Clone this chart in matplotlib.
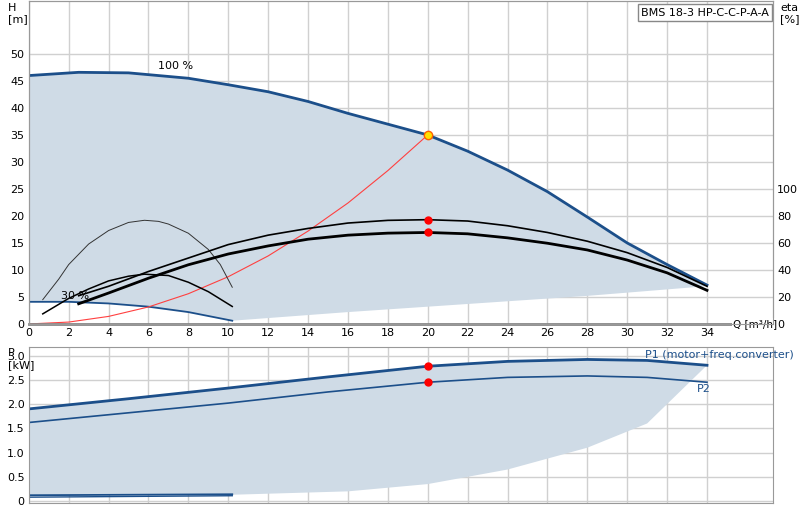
import matplotlib
matplotlib.use("Agg")
import matplotlib.pyplot as plt
import numpy as np

q100 = [0, 2.5, 5, 8, 10, 12, 14, 16, 18, 20, 22, 24, 26, 28, 30, 32, 34]
h100 = [46, 46.6, 46.5, 45.5, 44.3, 43, 41.2, 39, 37, 35, 32, 28.5, 24.5, 19.8, 15, 11, 7.2]
q30 = [0, 2, 4, 6, 8, 10.2]
h30 = [4.1, 4.1, 3.8, 3.2, 2.2, 0.6]
qlow = [10.2, 16, 22, 28, 34]
hlow = [0.6, 2.2, 3.7, 5.2, 7.0]
qeta = [2.5, 4, 6, 8, 10, 12, 14, 16, 18, 20, 22, 24, 26, 28, 30, 32, 34]
eta_tot = [21, 28, 39, 49, 59, 66, 71, 75, 77, 77.5, 76.5, 73, 68, 61.5, 53, 42, 28]
eta_pump = [15, 23, 34, 44, 52, 58, 63, 66, 67.5, 68, 67, 64, 60, 55, 47.5, 38, 25]
q30e = [0.7, 2, 3, 4, 5, 5.8, 7, 8, 9, 10.2]
eta30 = [7.5, 19, 26, 32, 35.5, 37, 36, 31, 24, 13]
q30n = [0.7, 1.5, 2, 3, 4, 5, 5.8, 6.5, 7, 8, 9, 9.6, 10.2]
h30n = [4.5, 8.3, 11, 14.8, 17.3, 18.8, 19.2, 19.0, 18.5, 16.8, 13.8, 11, 6.8]
qsys = [0, 2, 4, 6, 8, 10, 12, 14, 16, 18, 20]
hsys = [0, 0.35, 1.4, 3.15, 5.6, 8.75, 12.6, 17.2, 22.4, 28.4, 35]
qp = [0, 5, 10, 15, 20, 24, 28, 31, 34]
p1 = [1.9, 2.11, 2.33, 2.56, 2.78, 2.88, 2.92, 2.9, 2.8]
p2 = [1.62, 1.82, 2.02, 2.25, 2.45, 2.55, 2.58, 2.55, 2.45]
qpl = [10.2, 16, 20, 24, 28, 31, 34]
ppl = [0.13, 0.2, 0.35, 0.65, 1.1, 1.6, 2.8]
qp30 = [0, 10.2]
p1_30 = [0.12, 0.14]
p2_30 = [0.08, 0.11]

blue = "#1c4f8a"
fillc = "#cfdbe6"
grid = "#d0d0d0"

fig = plt.figure(figsize=(8, 5.2), dpi=100)
ax = fig.add_axes([0.036, 0.377, 0.93, 0.621])
ax.fill(list(q100) + qlow[::-1] + q30[::-1][1:], list(h100) + hlow[::-1] + h30[::-1][1:], color=fillc, lw=0)
ax.plot(q100, h100, color=blue, lw=2)
ax.plot(q30, h30, color=blue, lw=1.3)
ax.plot(qsys, hsys, color="#ff4040", lw=0.8)
ax.plot(q30n, h30n, color="#333333", lw=0.7)
ax2 = ax.twinx()
ax2.plot(qeta, eta_tot, color="black", lw=1.2)
ax2.plot(qeta, eta_pump, color="black", lw=2)
ax2.plot(q30e, eta30, color="black", lw=1.1)
ax2.plot([20], [77.5], "o", color="red", ms=5)
ax2.plot([20], [68], "o", color="red", ms=5)
ax.plot([20], [35], "o", color="#ffe000", mec="#ff6000", ms=6)
ax.set_xlim(0, 37.3); ax.set_ylim(0, 59.8)
ax2.set_ylim(0, 240)
ax.set_xticks(range(0, 35, 2)); ax.set_yticks(range(0, 51, 5))
ax2.set_yticks(range(0, 101, 20))
ax.grid(True, color=grid, lw=1); ax.set_axisbelow(True)
for a in (ax, ax2):
    a.tick_params(labelsize=8, length=0, pad=3)
    for s in a.spines.values(): s.set_color("#999999")
ax.spines["bottom"].set_color("#888888"); ax.spines["bottom"].set_linewidth(2)
ax.text(6.5, 47.3, "100 %", fontsize=8)
ax.text(1.6, 4.6, "30 %", fontsize=8)
fig.text(0.010, 0.995, "H\n[m]", fontsize=8, va="top", ha="left")
fig.text(0.975, 0.995, "eta\n[%]", fontsize=8, va="top", ha="left")
ax.text(35.3, 0, "Q [m³/h]", fontsize=7.5, va="center", ha="left", bbox=dict(fc="white", ec="none", pad=0.5))
ax.text(37.1, 58.6, "BMS 18-3 HP-C-C-P-A-A", fontsize=8, ha="right", va="top",
        bbox=dict(fc="white", ec="#888888", boxstyle="square,pad=0.3"))

bx = fig.add_axes([0.036, 0.0327, 0.93, 0.3003])
bx.fill(list(qp) + qpl[::-1] + qp30[::-1], list(p1) + ppl[::-1] + p1_30[::-1], color=fillc, lw=0)
bx.plot(qp, p1, color=blue, lw=2)
bx.plot(qp, p2, color=blue, lw=1.2)
bx.plot(qp30, p1_30, color=blue, lw=1.3)
bx.plot(qp30, p2_30, color=blue, lw=1)
bx.plot([20, 20], [2.78, 2.45], "o", color="red", ms=5)
bx.set_xlim(0, 37.3); bx.set_ylim(-0.04, 3.18)
bx.set_xticks(range(0, 35, 2)); bx.set_xticklabels([])
bx.set_yticks(np.arange(0, 3.01, 0.5))
bx.set_yticklabels(["0", "0.5", "1.0", "1.5", "2.0", "2.5", "3.0"])
bx.grid(True, color=grid, lw=1); bx.set_axisbelow(True)
bx.tick_params(labelsize=8, length=0, pad=3)
for s in bx.spines.values(): s.set_color("#999999")
bx.text(30.9, 2.9, "P1 (motor+freq.converter)", fontsize=8, color=blue, va="bottom")
bx.text(33.5, 2.42, "P2", fontsize=8, color=blue, va="top")
fig.text(0.010, 0.33, "P\n[kW]", fontsize=8, va="top", ha="left")
fig.savefig("out.png", dpi=100)
